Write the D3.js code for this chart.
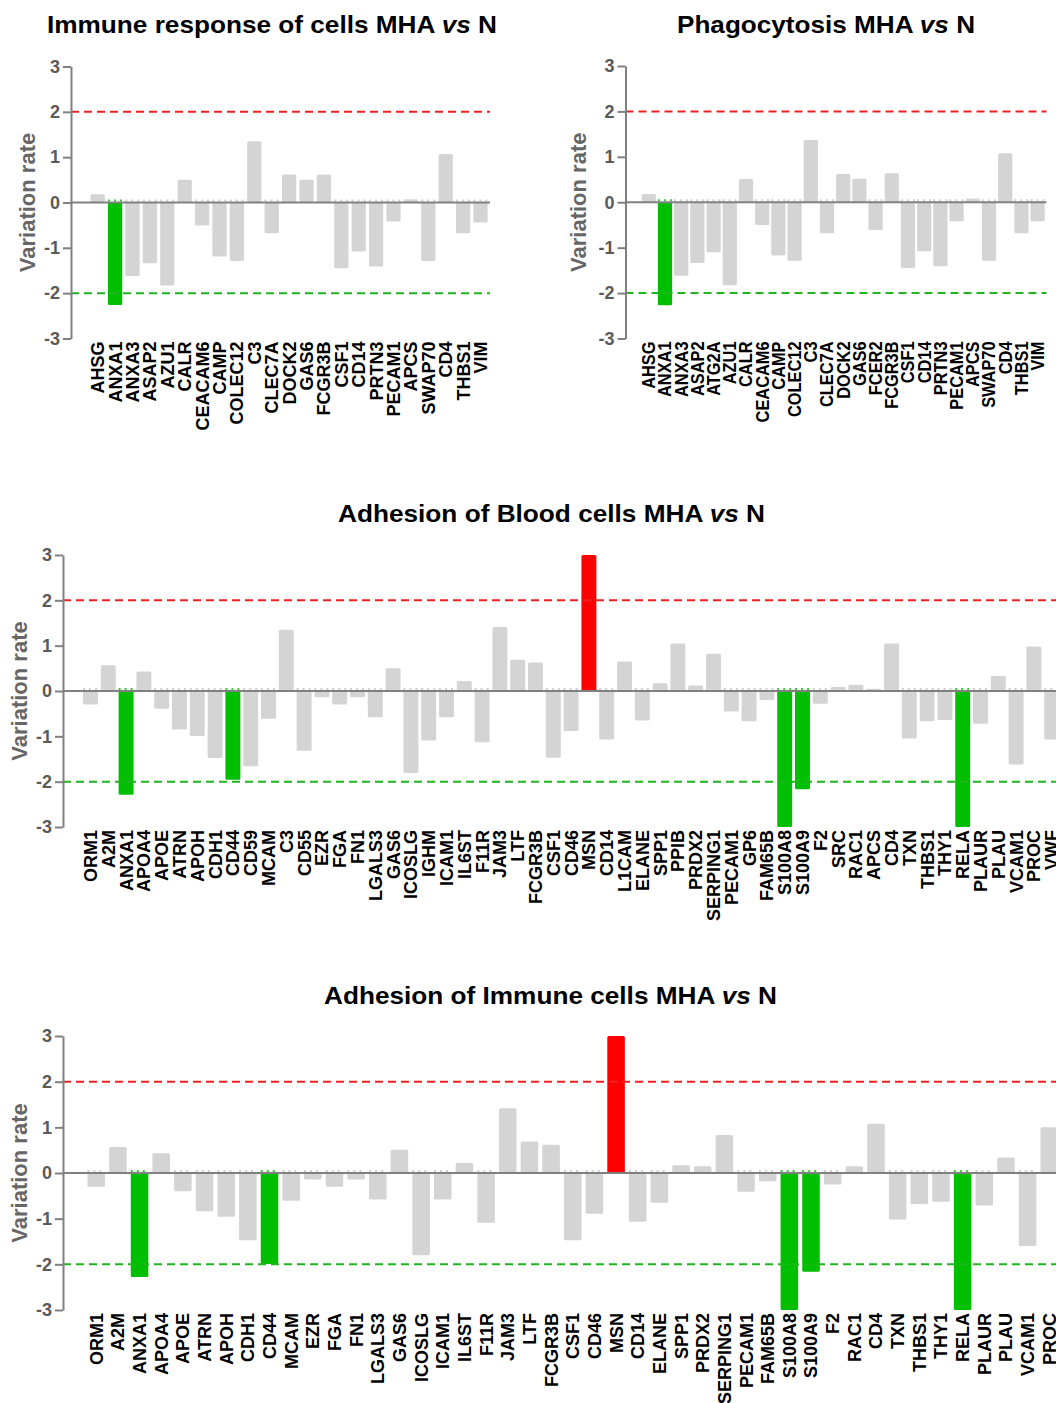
<!DOCTYPE html>
<html>
<head>
<meta charset="utf-8">
<script src="https://cdn.jsdelivr.net/npm/d3@7"></script>
<style>
  body { margin: 0; background: #fff; }
  svg { display: block; font-family: Arial, "Liberation Sans", sans-serif; }
</style>
</head>
<body>
<svg id="chart" width="1056" height="1403"></svg>
<script>
// ---- data: Immune response of cells
var immuneGenes = ["AHSG","ANXA1","ANXA3","ASAP2","AZU1","CALR","CEACAM6","CAMP","COLEC12","C3",
  "CLEC7A","DOCK2","GAS6","FCGR3B","CSF1","CD14","PRTN3","PECAM1","APCS","SWAP70","CD4","THBS1","VIM"];
var immuneValues = [0.18,-2.26,-1.62,-1.34,-1.83,0.5,-0.51,-1.19,-1.29,1.35,
  -0.68,0.62,0.5,0.62,-1.45,-1.08,-1.41,-0.42,0.07,-1.29,1.07,-0.68,-0.44];

// ---- data: Phagocytosis
var phagoGenes = ["AHSG","ANXA1","ANXA3","ASAP2","ATG2A","AZU1","CALR","CEACAM6","CAMP","COLEC12","C3",
  "CLEC7A","DOCK2","GAS6","FCER2","FCGR3B","CSF1","CD14","PRTN3","PECAM1","APCS","SWAP70","CD4","THBS1","VIM"];
var phagoValues = [0.18,-2.27,-1.62,-1.34,-1.1,-1.83,0.51,-0.5,-1.17,-1.29,1.37,
  -0.68,0.62,0.52,-0.61,0.64,-1.45,-1.08,-1.41,-0.42,0.08,-1.29,1.08,-0.68,-0.42];

// ---- data: Adhesion of Blood cells
var bloodGenes = ["ORM1","A2M","ANXA1","APOA4","APOE","ATRN","APOH","CDH1","CD44","CD59","MCAM","C3",
  "CD55","EZR","FGA","FN1","LGALS3","GAS6","ICOSLG","IGHM","ICAM1","IL6ST","F11R","JAM3","LTF","FCGR3B",
  "CSF1","CD46","MSN","CD14","L1CAM","ELANE","SPP1","PPIB","PRDX2","SERPING1","PECAM1","GP6","FAM65B",
  "S100A8","S100A9","F2","SRC","RAC1","APCS","CD4","TXN","THBS1","THY1","RELA","PLAUR","PLAU","VCAM1","PROC","VWF"];
var bloodValues = [-0.3,0.57,-2.29,0.43,-0.39,-0.85,-0.99,-1.48,-1.96,-1.66,-0.61,1.35,
  -1.32,-0.14,-0.3,-0.14,-0.58,0.5,-1.81,-1.09,-0.58,0.22,-1.13,1.41,0.69,0.63,
  -1.47,-0.88,3.0,-1.07,0.65,-0.65,0.17,1.05,0.12,0.82,-0.45,-0.67,-0.2,
  -3.0,-2.17,-0.28,0.09,0.14,0.05,1.05,-1.05,-0.67,-0.64,-3.0,-0.72,0.33,-1.62,0.98,-1.07];

// ---- data: Adhesion of Immune cells
var adhImmGenes = ["ORM1","A2M","ANXA1","APOA4","APOE","ATRN","APOH","CDH1","CD44","MCAM","EZR","FGA",
  "FN1","LGALS3","GAS6","ICOSLG","ICAM1","IL6ST","F11R","JAM3","LTF","FCGR3B","CSF1","CD46","MSN","CD14",
  "ELANE","SPP1","PRDX2","SERPING1","PECAM1","FAM65B","S100A8","S100A9","F2","RAC1","CD4","TXN","THBS1",
  "THY1","RELA","PLAUR","PLAU","VCAM1","PROC"];
var adhImmValues = [-0.3,0.57,-2.28,0.43,-0.4,-0.84,-0.96,-1.47,-1.99,-0.61,-0.14,-0.3,
  -0.14,-0.58,0.51,-1.8,-0.58,0.22,-1.09,1.42,0.69,0.62,-1.47,-0.89,3.0,-1.07,
  -0.65,0.17,0.15,0.83,-0.41,-0.18,-3.0,-2.16,-0.25,0.15,1.08,-1.02,-0.68,
  -0.63,-3.0,-0.71,0.34,-1.6,1.0];

var yTicks = [-3, -2, -1, 0, 1, 2, 3];
var threshold = 1.95;

var svg = d3.select("#chart");
svg.append("rect").attr("width", 1056).attr("height", 1403).attr("fill", "#fff");

function drawPanel(p) {
  var g = svg.append("g");
  var x = d3.scaleBand().domain(p.genes).range(p.xRange)
    .paddingInner(p.pad).paddingOuter(p.pad / 2);
  var y = d3.scaleLinear().domain([-3, 3]).range([p.yBottom, p.yTop]);
  var data = p.genes.map(function(d, i) { return {gene: d, v: p.values[i]}; });

  function color(v) {
    if (v >= threshold) return "#ff0000";
    if (v <= -threshold) return "#00bf00";
    return "#d4d4d4";
  }

  // bars
  g.selectAll("rect.bar").data(data).enter().append("rect")
    .attr("class", "bar")
    .attr("x", function(d) { return x(d.gene); })
    .attr("y", function(d) { return y(Math.max(0, d.v)); })
    .attr("width", x.bandwidth())
    .attr("height", function(d) { return Math.abs(y(d.v) - y(0)); })
    .attr("rx", 1.5)
    .attr("fill", function(d) { return color(d.v); });

  // little dotted caps above the zero line on negative bars
  g.selectAll("line.cap").data(data.filter(function(d) { return d.v < 0; })).enter().append("line")
    .attr("x1", function(d) { return x(d.gene); })
    .attr("x2", function(d) { return x(d.gene) + x.bandwidth(); })
    .attr("y1", y(0) - 2).attr("y2", y(0) - 2)
    .attr("stroke", function(d) { return d.v <= -threshold ? "#3cc83c" : "#cfcfcf"; })
    .attr("stroke-width", 2)
    .attr("stroke-dasharray", "2,4");

  // dashed threshold lines
  g.append("line")
    .attr("x1", p.axisX).attr("x2", p.lineEnd)
    .attr("y1", y(2)).attr("y2", y(2))
    .attr("stroke", "#f02020").attr("stroke-width", 2).attr("stroke-dasharray", "8,5");
  g.append("line")
    .attr("x1", p.axisX).attr("x2", p.lineEnd)
    .attr("y1", y(-2)).attr("y2", y(-2))
    .attr("stroke", "#1fb51f").attr("stroke-width", 2).attr("stroke-dasharray", "8,5");

  // zero line
  g.append("line")
    .attr("x1", p.axisX).attr("x2", p.lineEnd)
    .attr("y1", y(0)).attr("y2", y(0))
    .attr("stroke", "#808080").attr("stroke-width", 2);

  // y axis
  var ax = g.append("g")
    .attr("transform", "translate(" + p.axisX + ",0)")
    .call(d3.axisLeft(y).tickValues(yTicks).tickSizeOuter(0).tickSizeInner(8).tickPadding(3)
      .tickFormat(function(d) { return String(d); }));
  ax.select(".domain").attr("stroke", "#808080").attr("stroke-width", 2);
  ax.selectAll(".tick line").attr("stroke", "#808080").attr("stroke-width", 2);
  ax.selectAll(".tick text")
    .attr("fill", "#5a5a5a").attr("font-size", 18).attr("font-weight", "bold")
    .attr("font-family", "Arial, 'Liberation Sans', sans-serif");

  // y axis title
  g.append("text")
    .attr("transform", "translate(" + p.yTitleX + "," + y(0) + ") rotate(-90)")
    .attr("text-anchor", "middle").attr("dy", "0.35em")
    .attr("font-size", 22).attr("font-weight", "bold").attr("fill", "#666")
    .text("Variation rate");

  // category labels
  g.selectAll("text.cat").data(data).enter().append("text")
    .attr("class", "cat")
    .attr("transform", function(d) {
      return "translate(" + (x(d.gene) + x.bandwidth() / 2) + "," + (p.yBottom + 3) + ") rotate(-90) scale(" + p.labelScale + ",1)";
    })
    .attr("text-anchor", "end").attr("dy", "0.36em")
    .attr("font-size", 18).attr("font-weight", "bold").attr("fill", "#000")
    .text(function(d) { return d.gene; });

  // title
  var t = svg.append("text")
    .attr("x", p.titleX).attr("y", p.titleY)
    .attr("text-anchor", "middle")
    .attr("font-size", 24).attr("font-weight", "bold").attr("fill", "#000")
    .attr("textLength", p.titleLen).attr("lengthAdjust", "spacingAndGlyphs");
  t.append("tspan").text(p.title + " MHA ");
  t.append("tspan").attr("font-style", "italic").text("vs");
  t.append("tspan").text(" N");
}

drawPanel({
  genes: immuneGenes, values: immuneValues,
  title: "Immune response of cells", titleX: 272, titleY: 33, titleLen: 450,
  axisX: 71, yTop: 66.5, yBottom: 338.5, xRange: [89, 489.2], pad: 0.18, lineEnd: 490,
  yTitleX: 27, labelScale: 1
});
drawPanel({
  genes: phagoGenes, values: phagoValues,
  title: "Phagocytosis", titleX: 826, titleY: 33, titleLen: 298,
  axisX: 625.5, yTop: 66, yBottom: 338.5, xRange: [640.7, 1045.7], pad: 0.12, lineEnd: 1046.5,
  yTitleX: 578, labelScale: 0.91
});
drawPanel({
  genes: bloodGenes, values: bloodValues,
  title: "Adhesion of Blood cells", titleX: 551.5, titleY: 522, titleLen: 427,
  axisX: 63, yTop: 555, yBottom: 827, xRange: [81.6, 1060.6], pad: 0.16, lineEnd: 1060,
  yTitleX: 19, labelScale: 1
});
drawPanel({
  genes: adhImmGenes, values: adhImmValues,
  title: "Adhesion of Immune cells", titleX: 550.5, titleY: 1004, titleLen: 453,
  axisX: 63, yTop: 1036, yBottom: 1310, xRange: [85.4, 1060.1], pad: 0.19, lineEnd: 1060,
  yTitleX: 19, labelScale: 1
});
</script>
</body>
</html>
